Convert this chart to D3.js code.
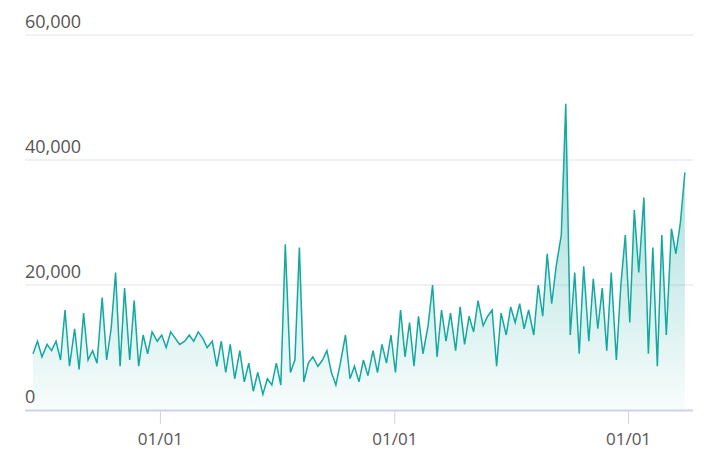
<!DOCTYPE html>
<html><head><meta charset="utf-8">
<script src="https://cdn.jsdelivr.net/npm/d3@7"></script>
<style>body{margin:0;background:#fff}text{font-family:"Open Sans",sans-serif}</style>
</head><body><svg id="c" width="726" height="476"></svg>
<script>
const startDate = "2019-06-16";
const values = [
9000,11000,8500,10500,9500,11000,8000,16000,7000,13000,
6500,15500,8000,9500,7500,18000,8000,13000,22000,7000,
19500,8000,17500,7000,12000,9000,12500,11000,12000,10000,
12500,11500,10500,11000,12000,11000,12500,11500,10000,11000,
7000,11000,6000,10500,5000,9500,4500,7500,3000,6000,
2500,5000,4000,7500,4000,26500,6000,8000,26000,4500,
7500,8500,7000,8000,9500,6000,4000,7500,12000,5000,
7000,4500,8000,5500,9500,6000,10500,7500,12000,6000,
16000,8500,14000,7000,15000,9000,13500,20000,8500,16000,
11000,15500,9500,16500,10500,15000,12500,17500,13500,15000,
16000,7000,15500,12000,16500,14000,17000,13000,16000,12000,
20000,15000,25000,17000,23000,28000,49000,12000,22000,9000,
23000,11000,21000,13000,19500,9500,22000,8000,20000,28000,
14000,32000,22000,34000,9000,26000,7000,28000,12000,29000,
25000,30000,38000];
const yTicks = [0,20000,40000,60000];
const xTickDates = ["2020-01-01","2021-01-01","2022-01-01"];

const t0 = new Date(startDate+"T00:00:00");
const data = values.map((v,i)=>({d:d3.timeDay.offset(t0,Math.round(i*7.17)),v}));
const svg = d3.select("#c");
const L=33,R=690,T=35,B=410;
const x = d3.scaleTime().range([L,R]);
x.domain([d3.timeDay.offset(new Date("2020-01-01"), -(160-L)/(468/731)), d3.timeDay.offset(new Date("2020-01-01"), (R-160)/(468/731))]);
const y = d3.scaleLinear().domain([0,60000]).range([B,T]);

const defs = svg.append("defs");
const g = defs.append("linearGradient").attr("id","gr").attr("x1",0).attr("y1",0).attr("x2",0).attr("y2",1);
g.append("stop").attr("offset","0%").attr("stop-color","#13a89e").attr("stop-opacity",0.45);
g.append("stop").attr("offset","100%").attr("stop-color","#13a89e").attr("stop-opacity",0.03);

svg.append("g").selectAll("line").data(yTicks.filter(d=>d>0)).join("line")
 .attr("x1",25).attr("x2",R+3).attr("y1",d=>y(d)).attr("y2",d=>y(d)).attr("stroke","#e3e3e8");
svg.append("g").selectAll("text").data(yTicks).join("text")
 .attr("x",25).attr("y",d=>y(d)-7).attr("fill","#555").attr("font-size",18)
 .text(d=>d3.format(",")(d));

const x1=d=>x(d.d);
svg.append("path").datum(data).attr("fill","url(#gr)")
 .attr("d",d3.area().x(x1).y0(y(0)).y1(d=>y(d.v)));
svg.append("path").datum(data).attr("fill","none").attr("stroke","#13a8a0").attr("stroke-width",1.5)
 .attr("d",d3.line().x(x1).y(d=>y(d.v)));

svg.append("line").attr("x1",25).attr("x2",R+3).attr("y1",B+0.5).attr("y2",B+0.5).attr("stroke","#ccd3e6").attr("stroke-width",2);
const xt = xTickDates.map(s=>new Date(s+"T00:00:00"));
svg.append("g").selectAll("line").data(xt).join("line")
 .attr("x1",d=>x(d)).attr("x2",d=>x(d)).attr("y1",B).attr("y2",B+14).attr("stroke","#ccd3e6");
svg.append("g").selectAll("text").data(xt).join("text")
 .attr("x",d=>x(d)).attr("y",B+35).attr("text-anchor","middle").attr("fill","#555").attr("font-size",17)
 .text(d3.timeFormat("%m/%d"));
</script></body></html>
